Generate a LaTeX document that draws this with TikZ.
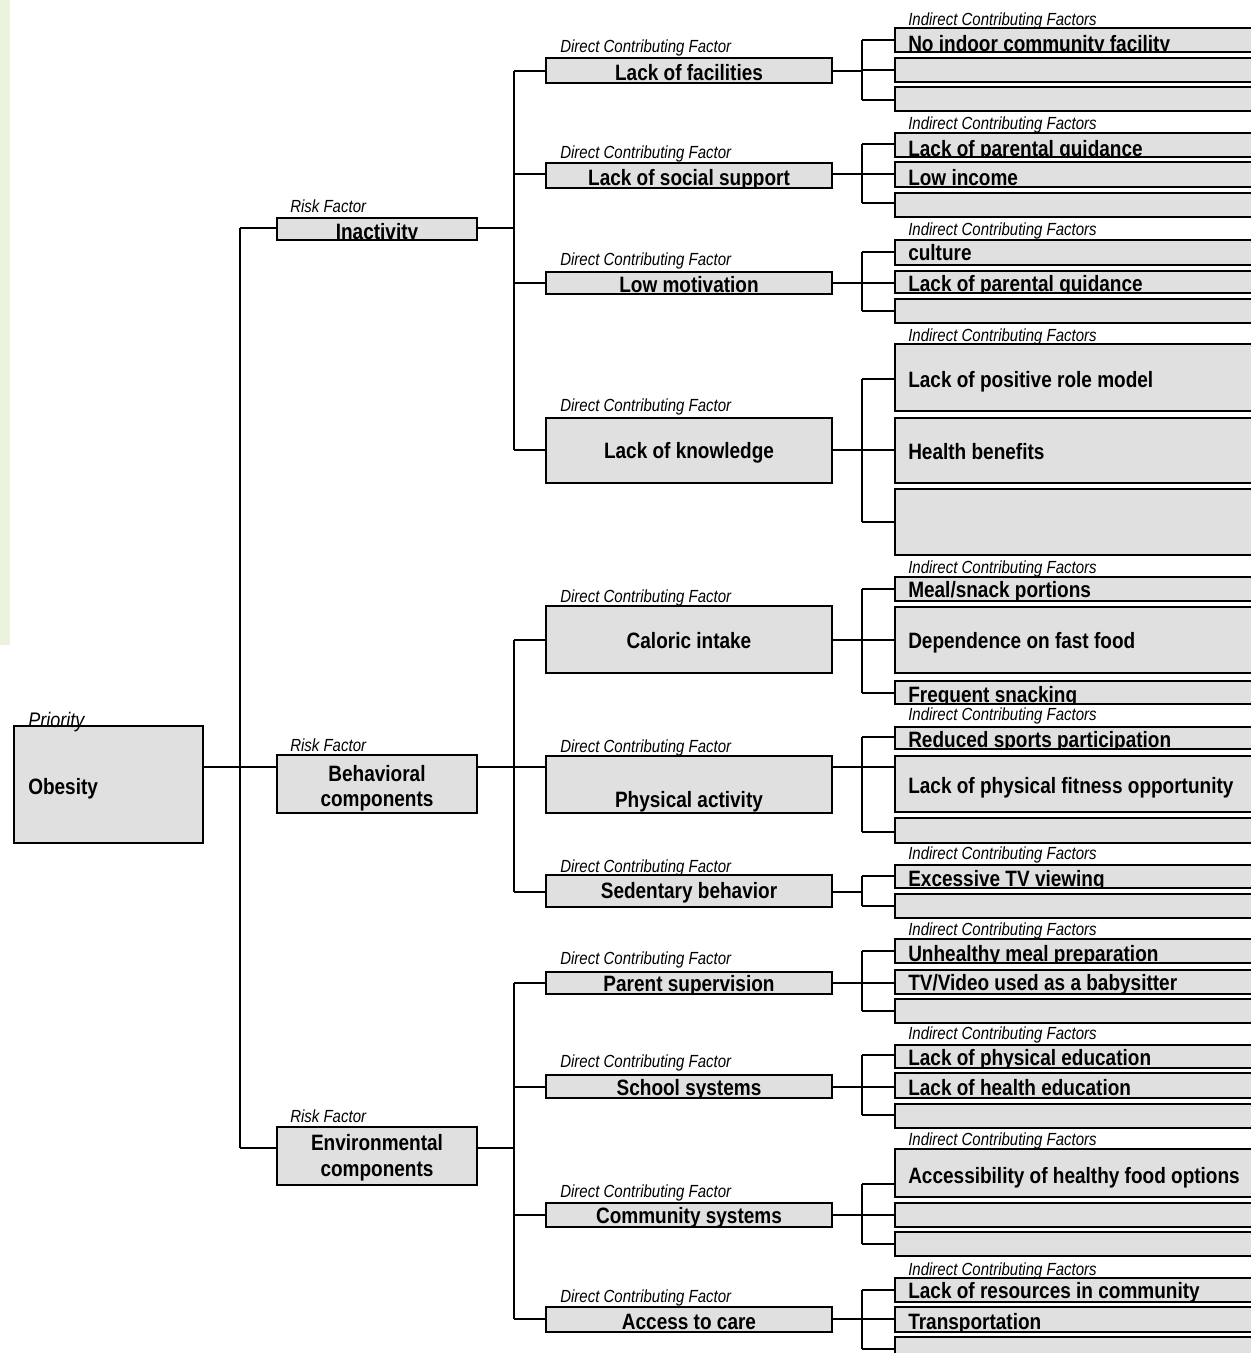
\documentclass[tikz,border=0pt]{standalone}
\usepackage{fontspec}
\setmainfont{Liberation Sans}
\usepackage{graphicx}
\usetikzlibrary{fit}
\definecolor{boxgray}{HTML}{E0E0E0}
\definecolor{stripgreen}{HTML}{EBF3DE}
\newcommand\vs[1]{\scalebox{1}[1.17]{#1}}
\newcommand\bfs{\fontsize{14.25pt}{17pt}\selectfont\bfseries}
\newcommand\lbs{\fontsize{11.25pt}{13pt}\selectfont\itshape}
\newcommand\pbs{\fontsize{13.5pt}{15pt}\selectfont\itshape}
% direct contributing factor box: name, top, bottom, text, baseline, connector y, label baseline
\newcommand\dbox[7]{%
  \node[lab] (#1-l) at (560,#7) {\vs{Direct Contributing Factor}};
  \node[box, fit={(546,#2)(832,#3)}] (#1) {};
  \begin{scope}\clip (546,#2) rectangle (832,#3);
    \node[ctxt] (#1-t) at (689,#5) {\vs{#4}};
  \end{scope}
  \draw[conn] (#1.west |- 0,#6) -- ++(-32,0);
  \draw[conn] (#1.east |- 0,#6) -- ++(30,0);
}
% indirect factor box: name, top, bottom, text, baseline, branch y
\newcommand\ibox[6]{%
  \node[box, fit={(895,#2)(1262,#3)}] (#1) {};
  \begin{scope}\clip (895,#2) rectangle (1262,#3);
    \node[ltxt] (#1-t) at (908,#5) {\vs{#4}};
  \end{scope}
  \draw[conn] (#1.west |- 0,#6) -- ++(-33,0);
}
\newcommand\ilab[2]{\node[lab] (#1) at (908,#2) {\vs{Indirect Contributing Factors}};}
\begin{document}
\begin{tikzpicture}[x=0.75pt,y=-0.75pt,
  box/.style={draw=black, line width=1.1pt, fill=boxgray, inner sep=0pt, outer sep=0pt},
  conn/.style={draw=black, line width=1.1pt},
  ctxt/.style={inner sep=0pt, anchor=base, font=\bfs},
  ltxt/.style={inner sep=0pt, anchor=base west, font=\bfs},
  lab/.style={inner sep=0pt, anchor=base west, font=\lbs}]
\useasboundingbox (0,0) rectangle (1251,1353);
\fill[stripgreen] (0,0) rectangle (10,645);
\begin{scope}
\clip (0,0) rectangle (1251,1353);

% ---------- spines ----------
\draw[conn] (240,228) -- (240,1148);
\draw[conn] (514,71) -- (514,450);
\draw[conn] (514,640) -- (514,892);
\draw[conn] (514,983) -- (514,1319);
\draw[conn] (862,40) -- (862,100);
\draw[conn] (862,144) -- (862,203);
\draw[conn] (862,252) -- (862,311);
\draw[conn] (862,379) -- (862,522);
\draw[conn] (862,589) -- (862,693);
\draw[conn] (862,737) -- (862,832);
\draw[conn] (862,876) -- (862,906);
\draw[conn] (862,951) -- (862,1011);
\draw[conn] (862,1055) -- (862,1115);
\draw[conn] (862,1184) -- (862,1244);
\draw[conn] (862,1290) -- (862,1349);

% ---------- priority ----------
\node[box, fit={(14,726)(203,843)}] (obes) {};
\node[inner sep=0pt, anchor=base west, font=\pbs] (prio) at (28,727) {\vs{Priority}};
\node[ltxt] (obes-t) at (28,794) {\vs{Obesity}};

% ---------- risk factors ----------
\node[lab] (inact-l) at (290,212) {\vs{Risk Factor}};
\node[box, fit={(277,218)(477,240)}] (inact) {};
\begin{scope}\clip (277,218) rectangle (477,240);
  \node[ctxt] (inact-t) at (377,239) {\vs{Inactivity}};
\end{scope}
\node[lab] (beh-l) at (290,751) {\vs{Risk Factor}};
\node[box, fit={(277,755)(477,813)}] (beh) {};
\node[ctxt] (beh-t1) at (377,781) {\vs{Behavioral}};
\node[ctxt] (beh-t2) at (377,806) {\vs{components}};
\node[lab] (env-l) at (290,1122) {\vs{Risk Factor}};
\node[box, fit={(277,1127)(477,1185)}] (env) {};
\node[ctxt] (env-t1) at (377,1150) {\vs{Environmental}};
\node[ctxt] (env-t2) at (377,1176) {\vs{components}};

\draw[conn] (obes.east |- 0,767) -- (beh.west |- 0,767);
\draw[conn] (inact.west |- 0,228) -- (240,228);
\draw[conn] (env.west |- 0,1148) -- (240,1148);
\draw[conn] (inact.east |- 0,228) -- (514,228);
\draw[conn] (beh.east |- 0,767) -- (514,767);
\draw[conn] (env.east |- 0,1148) -- (514,1148);

% ---------- direct contributing factors ----------
\dbox{fac}{58}{83}{Lack of facilities}{80}{71}{52}
\dbox{soc}{163}{188}{Lack of social support}{185}{174}{158}
\dbox{mot}{272}{294}{Low motivation}{292}{283}{265}
\dbox{know}{418}{483}{Lack of knowledge}{458}{450}{411}
\dbox{cal}{606}{673}{Caloric intake}{648}{640}{602}
\dbox{phys}{756}{813}{Physical activity}{807}{767}{752}
\dbox{sed}{875}{907}{Sedentary behavior}{898}{892}{872}
\dbox{par}{972}{994}{Parent supervision}{991}{983}{964}
\dbox{sch}{1075}{1098}{School systems}{1095}{1087}{1067}
\dbox{com}{1203}{1227}{Community systems}{1223}{1215}{1197}
\dbox{acc}{1307}{1332}{Access to care}{1329}{1319}{1302}

% ---------- indirect contributing factors ----------
\ilab{g1}{25}
\ibox{i1a}{28}{52}{No indoor community facility}{51}{40}
\ibox{i1b}{58}{82}{}{78}{70}
\ibox{i1c}{87}{111}{}{107}{100}
\ilab{g2}{129}
\ibox{i2a}{133}{157}{Lack of parental guidance}{156}{144}
\ibox{i2b}{162}{187}{Low income}{185}{174}
\ibox{i2c}{193}{217}{}{213}{203}
\ilab{g3}{235}
\ibox{i3a}{240}{265}{culture}{260}{252}
\ibox{i3b}{271}{293}{Lack of parental guidance}{291}{283}
\ibox{i3c}{299}{323}{}{319}{311}
\ilab{g4}{341}
\ibox{i4a}{344}{411}{Lack of positive role model}{387}{379}
\ibox{i4b}{418}{483}{Health benefits}{459}{450}
\ibox{i4c}{489}{555}{}{530}{522}
\ilab{g5}{573}
\ibox{i5a}{577}{601}{Meal/snack portions}{597}{589}
\ibox{i5b}{607}{673}{Dependence on fast food}{648}{640}
\ibox{i5c}{681}{704}{Frequent snacking}{702}{693}
\ilab{g6}{720}
\ibox{i6a}{727}{749}{Reduced sports participation}{747}{737}
\ibox{i6b}{756}{812}{Lack of physical fitness opportunity}{793}{767}
\ibox{i6c}{818}{843}{}{840}{832}
\ilab{g7}{859}
\ibox{i7a}{865}{888}{Excessive TV viewing}{886}{876}
\ibox{i7b}{894}{918}{}{914}{906}
\ilab{g8}{935}
\ibox{i8a}{939}{963}{Unhealthy meal preparation}{961}{951}
\ibox{i8b}{970}{994}{TV/Video used as a babysitter}{990}{983}
\ibox{i8c}{999}{1023}{}{1019}{1011}
\ilab{g9}{1039}
\ibox{i9a}{1045}{1068}{Lack of physical education}{1065}{1055}
\ibox{i9b}{1073}{1098}{Lack of health education}{1095}{1087}
\ibox{i9c}{1104}{1128}{}{1124}{1115}
\ilab{g10}{1145}
\ibox{i10a}{1149}{1197}{Accessibility of healthy food options}{1183}{1184}
\ibox{i10b}{1203}{1227}{}{1223}{1215}
\ibox{i10c}{1232}{1256}{}{1252}{1244}
\ilab{g11}{1275}
\ibox{i11a}{1278}{1302}{Lack of resources in community}{1298}{1290}
\ibox{i11b}{1307}{1332}{Transportation}{1329}{1319}
\ibox{i11c}{1337}{1362}{}{1358}{1349}
\end{scope}
\end{tikzpicture}
\end{document}
